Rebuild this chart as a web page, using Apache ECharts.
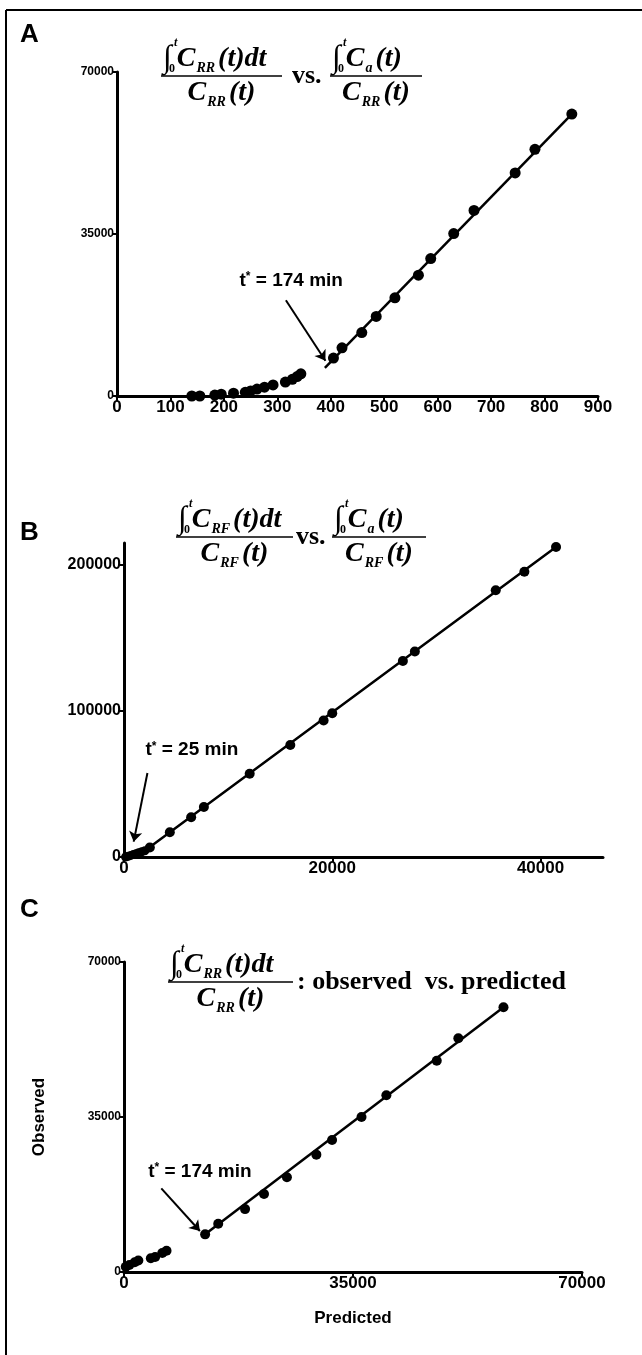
<!DOCTYPE html>
<html>
<head>
<meta charset="utf-8">
<script src="https://cdn.jsdelivr.net/npm/echarts@6/dist/echarts.min.js"></script>
<style>
  html, body { margin: 0; padding: 0; background: #fff; }
  #chart { width: 642px; height: 1355px; }
</style>
</head>
<body>
<div id="chart"></div>
<script>
// panel A : time (min) vs ratio, t* = 174 min
const aTimeEarly  = [140, 155, 183, 195, 218, 240, 250, 262, 276, 292, 315, 328, 337, 344];
const aRatioEarly = [0, 0, 200, 400, 600, 800, 1100, 1500, 1900, 2400, 3000, 3600, 4200, 4800];
const aTime  = [405, 421, 458, 485, 520, 564, 587, 630, 668, 745, 782, 851];
const aRatio = [8200, 10400, 13700, 17200, 21200, 26100, 29700, 35100, 40100, 48200, 53300, 60900];
const aFit   = [[389, 6100], [851, 60900]];
const aNote  = [326, 25000];
const aArrow = [[316, 20700], [390, 7600]];
const aTicksX = [0, 100, 200, 300, 400, 500, 600, 700, 800, 900];
const aTicksY = [0, 35000, 70000];

// panel B : t* = 25 min
const bXEarly = [150, 400, 650, 900, 1150, 1400, 1700, 2000];
const bYEarly = [0, 500, 1100, 1700, 2300, 2900, 3600, 4300];
const bX = [2480, 4400, 6450, 7670, 12070, 15970, 19170, 20000, 26780, 27930, 35700, 38450, 41490];
const bY = [6500, 17000, 27200, 34200, 57000, 76700, 93500, 98400, 134200, 140700, 182600, 195300, 212300];
const bFit   = [[0, 0], [2000, 4300], [41490, 212300]];
const bNote  = [6520, 73300];
const bArrow = [[2250, 57500], [930, 10500]];
const bTicksX = [0, 20000, 40000];
const bTicksY = [0, 100000, 200000];

// panel C : observed vs predicted
const cPredEarly = [270, 820, 1640, 2190, 4100, 4760, 5850, 6500];
const cObsEarly  = [1200, 1600, 2200, 2600, 3100, 3400, 4300, 4800];
const cPred = [12400, 14400, 18500, 21400, 24900, 29400, 31800, 36300, 40100, 47800, 51100, 58000];
const cObs  = [8500, 10900, 14200, 17600, 21400, 26500, 29800, 35000, 39900, 47700, 52800, 59800];
const cFit   = [[12400, 8500], [58000, 59800]];
const cNote  = [11600, 22700];
const cArrow = [[5700, 18900], [11600, 9250]];
const cTicksX = [0, 35000, 70000];
const cTicksY = [0, 35000, 70000];

const ink = '#000';
const sans = '"Liberation Sans", Arial, sans-serif';
const serif = '"Liberation Serif", "Times New Roman", serif';

const pts = (xs, ys) => xs.map((x, i) => [x, ys[i]]);
const plain = v => String(v);   // no thousands separator

function xAxisOf(grid, max, ticks, extra) {
  return Object.assign({
    gridIndex: grid, type: 'value', min: 0, max: max,
    axisLine: { show: true, onZero: false, lineStyle: { color: ink, width: 3 } },
    axisTick: { show: true, length: 5, customValues: ticks, lineStyle: { color: ink, width: 2 } },
    axisLabel: { customValues: ticks, formatter: plain, color: ink, fontSize: 17, fontWeight: 'bold', fontFamily: sans, margin: 3 },
    splitLine: { show: false }
  }, extra || {});
}

function yAxisOf(grid, max, ticks, size, extra) {
  return Object.assign({
    gridIndex: grid, type: 'value', min: 0, max: max,
    axisLine: { show: true, onZero: false, lineStyle: { color: ink, width: 3 } },
    axisTick: { show: true, length: 5, customValues: ticks, lineStyle: { color: ink, width: 2 } },
    axisLabel: { customValues: ticks, formatter: plain, color: ink, fontSize: size, fontWeight: 'bold', fontFamily: sans, margin: 3 },
    splitLine: { show: false }
  }, extra || {});
}

function dots(idx, data, size) {
  return {
    type: 'scatter', xAxisIndex: idx, yAxisIndex: idx, data: data,
    symbolSize: size, clip: false, z: 3,
    itemStyle: { color: ink, opacity: 1 },
    emphasis: { disabled: true }
  };
}

function fit(idx, data) {
  return {
    type: 'line', xAxisIndex: idx, yAxisIndex: idx, data: data,
    showSymbol: false, clip: false, z: 2,
    lineStyle: { color: ink, width: 2.5 }
  };
}

function arrow(idx, coords) {
  return {
    type: 'lines', coordinateSystem: 'cartesian2d', xAxisIndex: idx, yAxisIndex: idx,
    data: [{ coords: coords }],
    symbol: ['none', 'arrow'], symbolSize: 10, z: 2,
    lineStyle: { color: ink, width: 2, opacity: 1 }
  };
}

function note(idx, at, text) {
  return {
    type: 'scatter', xAxisIndex: idx, yAxisIndex: idx, data: [at],
    symbolSize: 0, clip: false, silent: true,
    itemStyle: { color: ink, opacity: 1 },
    label: {
      show: true, position: 'inside', color: ink, opacity: 1, textBorderWidth: 0,
      formatter: '{a|t}{b|*}{a| = ' + text + '}',
      rich: {
        a: { color: ink, fontFamily: sans, fontWeight: 'bold', fontSize: 19, textBorderWidth: 0 },
        b: { color: ink, fontFamily: sans, fontWeight: 'bold', fontSize: 12, verticalAlign: 'top', textBorderWidth: 0 }
      }
    }
  };
}

// formula pieces
const rich = {
  i: { fontFamily: serif, fontSize: 32, fontWeight: 'bold', lineHeight: 32, padding: [0, 5, 0, 0], fill: ink },
  c: { fontFamily: serif, fontSize: 28, fontWeight: 'bold', fontStyle: 'italic', lineHeight: 32, fill: ink },
  s: { fontFamily: serif, fontSize: 14, fontWeight: 'bold', fontStyle: 'italic', lineHeight: 15, verticalAlign: 'bottom', padding: [0, 3, 0, 1], fill: ink }
};

function txt(x, y, text, font, align, valign) {
  return {
    type: 'text', silent: true,
    style: { x: x, y: y, text: text, font: font, fill: ink,
      align: align || 'left', verticalAlign: valign || 'middle',
      textAlign: align || 'left', textVerticalAlign: valign || 'middle' }
  };
}

function fraction(left, barY, barW, numSub, numTail, denSub) {
  return [
    { type: 'line', silent: true, shape: { x1: left, y1: barY, x2: left + barW, y2: barY },
      style: { stroke: ink, lineWidth: 1.6 } },
    { type: 'text', silent: true,
      style: { x: left + 2, y: barY - 1, text: '{i|∫}{c|C}{s|' + numSub + '}{c|' + numTail + '}', rich: rich,
        align: 'left', verticalAlign: 'bottom', textAlign: 'left', textVerticalAlign: 'bottom' } },
    txt(left + 13, barY - 33, 't', 'italic bold 12px ' + serif),
    txt(left + 8, barY - 7, '0', 'bold 12px ' + serif),
    { type: 'text', silent: true,
      style: { x: left + barW / 2, y: barY + 1, text: '{c|C}{s|' + denSub + '}{c|(t)}', rich: rich,
        align: 'center', verticalAlign: 'top', textAlign: 'center', textVerticalAlign: 'top' } }
  ];
}

const graphics = [
  { type: 'line', silent: true, shape: { x1: 6, y1: 10, x2: 642, y2: 10 }, style: { stroke: ink, lineWidth: 2 } },
  { type: 'line', silent: true, shape: { x1: 6, y1: 10, x2: 6, y2: 1355 }, style: { stroke: ink, lineWidth: 2 } },
  txt(20, 22, 'A', 'bold 26px ' + sans, 'left', 'top'),
  txt(20, 520, 'B', 'bold 26px ' + sans, 'left', 'top'),
  txt(20, 897, 'C', 'bold 26px ' + sans, 'left', 'top'),
  txt(292, 76, 'vs.', 'bold 26px ' + serif),
  txt(296, 537, 'vs.', 'bold 26px ' + serif),
  txt(297, 982, ': observed  vs. predicted', 'bold 26px ' + serif)
].concat(
  fraction(161, 76, 121, 'RR', '(t)dt', 'RR'),
  fraction(330, 76, 92, 'a', '(t)', 'RR'),
  fraction(176, 537, 117, 'RF', '(t)dt', 'RF'),
  fraction(332, 537, 94, 'a', '(t)', 'RF'),
  fraction(168, 982, 125, 'RR', '(t)dt', 'RR')
);

const chart = echarts.init(document.getElementById('chart'));
chart.setOption({
  backgroundColor: '#fff',
  animation: false,
  grid: [
    { left: 117, top: 72, width: 481, height: 324, outerBoundsMode: 'none' },
    { left: 124, top: 543, width: 479, height: 314, outerBoundsMode: 'none' },
    { left: 124, top: 962, width: 458, height: 310, outerBoundsMode: 'none' }
  ],
  xAxis: [
    xAxisOf(0, 900, aTicksX),
    xAxisOf(1, 46000, bTicksX),
    xAxisOf(2, 70000, cTicksX, {
      name: 'Predicted', nameLocation: 'middle', nameGap: 38,
      nameTextStyle: { color: ink, fontSize: 17, fontWeight: 'bold', fontFamily: sans }
    })
  ],
  yAxis: [
    yAxisOf(0, 70000, aTicksY, 12),
    yAxisOf(1, 215000, bTicksY, 16),
    yAxisOf(2, 70000, cTicksY, 12, {
      name: 'Observed', nameLocation: 'middle', nameGap: 76, nameRotate: 90,
      nameTextStyle: { color: ink, fontSize: 17, fontWeight: 'bold', fontFamily: sans }
    })
  ],
  series: [
    fit(0, aFit),
    dots(0, pts(aTimeEarly, aRatioEarly), 11),
    dots(0, pts(aTime, aRatio), 11),
    arrow(0, aArrow),
    note(0, aNote, '174 min'),
    fit(1, bFit),
    dots(1, pts(bXEarly, bYEarly), 9),
    dots(1, pts(bX, bY), 10),
    arrow(1, bArrow),
    note(1, bNote, '25 min'),
    fit(2, cFit),
    dots(2, pts(cPredEarly, cObsEarly), 10),
    dots(2, pts(cPred, cObs), 10),
    arrow(2, cArrow),
    note(2, cNote, '174 min')
  ],
  graphic: graphics
});
</script>
</body>
</html>
